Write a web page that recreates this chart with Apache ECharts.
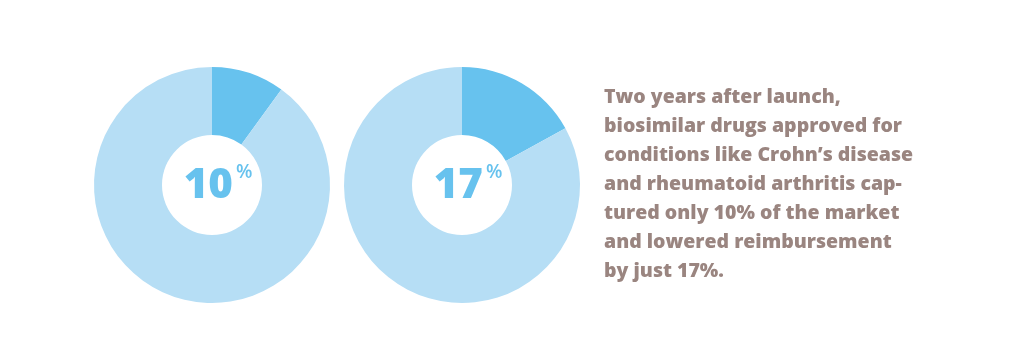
<!DOCTYPE html>
<html>
<head>
<meta charset="utf-8">
<script src="https://cdn.jsdelivr.net/npm/echarts@6/dist/echarts.min.js"></script>
<style>
html,body{margin:0;padding:0;background:#fff;}
#c{width:1024px;height:360px;}
</style>
</head>
<body>
<div id="c"></div>
<script>
const categories = ['Biosimilar', 'Rest'];
const marketShare = [10, 90];
const reimbursementDrop = [17, 83];
const caption = [
  'Two years after launch,',
  'biosimilar drugs approved for',
  'conditions like Crohn\u2019s disease',
  'and rheumatoid arthritis cap-',
  'tured only 10% of the market',
  'and lowered reimbursement',
  'by just 17%.'
];

const DARK = '#67c2ee';
const LIGHT = '#b6def5';

function pieSeries(values, cx) {
  return {
    type: 'pie',
    center: [cx, 185],
    radius: [50, 118],
    startAngle: 90,
    clockwise: true,
    silent: true,
    avoidLabelOverlap: false,
    labelLine: {show: false},
    emphasis: {disabled: true},
    data: values.map((v, i) => ({
      name: categories[i],
      value: v,
      itemStyle: {color: i === 0 ? DARK : LIGHT},
      label: i === 0 ? {
        show: true,
        position: 'center',
        offset: [6, 0],
        formatter: '{n|{c}}{p|%}',
        rich: {
          n: {fontFamily: 'Open Sans', fontWeight: 800, fontSize: 42, color: DARK, lineHeight: 44, verticalAlign: 'bottom'},
          p: {fontFamily: 'Open Sans', fontWeight: 600, fontSize: 19, color: DARK, lineHeight: 44, verticalAlign: 'top', padding: [0, 0, 0, 3]}
        }
      } : {show: false}
    }))
  };
}

const chart = echarts.init(document.getElementById('c'), null, {renderer: 'canvas'});
chart.setOption({
  backgroundColor: '#ffffff',
  animation: false,
  title: {
    text: caption.join('\n'),
    left: 599,
    top: 78,
    textStyle: {
      fontFamily: 'Open Sans',
      fontWeight: 800,
      fontSize: 19.5,
      lineHeight: 29,
      color: '#9a8580'
    }
  },
  series: [pieSeries(marketShare, 212), pieSeries(reimbursementDrop, 462)]
});
</script>
</body>
</html>
